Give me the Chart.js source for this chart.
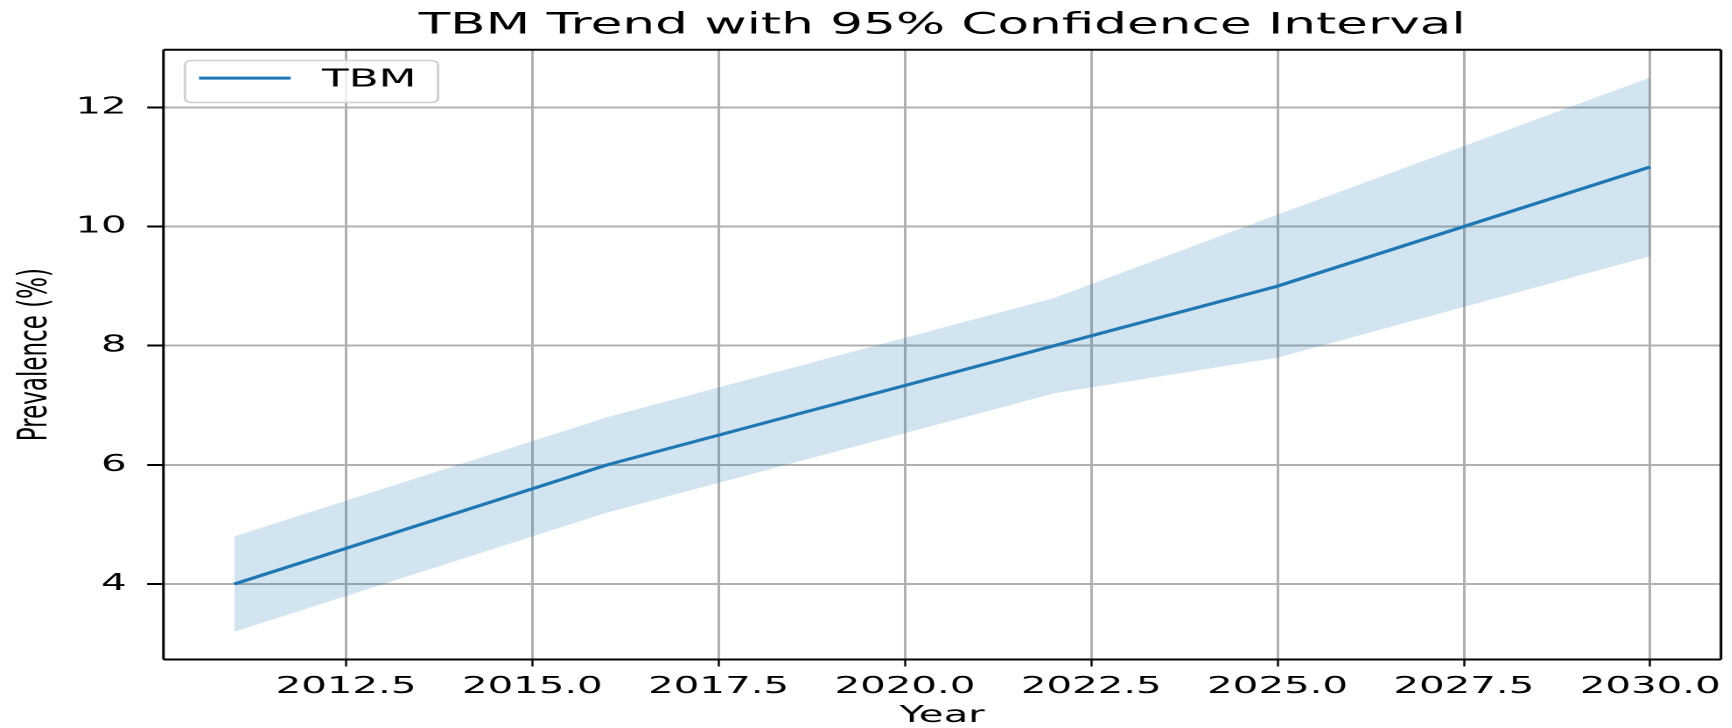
<!DOCTYPE html>
<html>
<head>
<meta charset="utf-8">
<title>TBM Trend with 95% Confidence Interval</title>
<script src="https://cdn.jsdelivr.net/npm/chart.js@4.4.1/dist/chart.umd.min.js"></script>
<style>
  html, body { margin: 0; padding: 0; background: #fff; overflow: hidden; }
  /* the reference figure is stretched sideways, so the chart is drawn narrow and widened */
  #wrap { width: 990px; height: 728px; transform: scaleX(1.75); transform-origin: 0 0; }
  #c { width: 990px; height: 728px; }
</style>
</head>
<body>
<div id="wrap"><canvas id="c" width="990" height="728"></canvas></div>
<script>
// data
const years = [2011, 2016, 2022, 2025, 2030];
const prevalence = [4.0, 6.0, 8.0, 9.0, 11.0];
const ciLower = [3.2, 5.2, 7.2, 7.8, 9.5];
const ciUpper = [4.8, 6.8, 8.8, 10.2, 12.5];
const xTicks = [2012.5, 2015, 2017.5, 2020, 2022.5, 2025, 2027.5, 2030];
const yTicks = [4, 6, 8, 10, 12];

const BLUE = '#1f77b4';
const FONT = "'DejaVu Sans', 'Liberation Sans', sans-serif";

Chart.defaults.font.family = FONT;
Chart.defaults.color = '#000';

const toPoints = vals => years.map((yr, i) => ({ x: yr, y: vals[i] }));

// matplotlib-like frame around the plot area
const spines = {
  id: 'spines',
  afterDraw(chart) {
    const { ctx, chartArea: a } = chart;
    ctx.save();
    ctx.strokeStyle = '#000';
    ctx.lineWidth = 2;
    ctx.beginPath();
    ctx.moveTo(a.left, a.top); ctx.lineTo(a.right, a.top);
    ctx.moveTo(a.left, a.bottom); ctx.lineTo(a.right, a.bottom);
    ctx.stroke();
    ctx.lineWidth = 1.5;
    ctx.beginPath();
    ctx.moveTo(a.left, a.top); ctx.lineTo(a.left, a.bottom);
    ctx.moveTo(a.right, a.top); ctx.lineTo(a.right, a.bottom);
    ctx.stroke();
    ctx.restore();
  }
};

// legend in the upper left corner of the axes, with a rounded frame
const cornerLegend = {
  id: 'cornerLegend',
  afterDraw(chart) {
    const { ctx, chartArea: a } = chart;
    const ds = chart.data.datasets[0];
    const x = a.left + 12.3, y = a.top + 10.7, w = 144.6, h = 42;
    ctx.save();
    ctx.beginPath();
    ctx.roundRect(x, y, w, h, 4);
    ctx.fillStyle = 'rgba(255,255,255,0.8)';
    ctx.fill();
    ctx.strokeStyle = '#d0d0d0';
    ctx.lineWidth = 1.5;
    ctx.stroke();
    ctx.beginPath();
    ctx.moveTo(x + 8, y + 17.6);
    ctx.lineTo(x + 60.4, y + 17.6);
    ctx.strokeStyle = ds.borderColor;
    ctx.lineWidth = 3;
    ctx.stroke();
    ctx.fillStyle = '#000';
    ctx.font = '25px ' + FONT;
    ctx.textBaseline = 'alphabetic';
    ctx.fillText(ds.label, x + 78.3, y + 26);
    ctx.restore();
  }
};

new Chart(document.getElementById('c'), {
  type: 'line',
  data: {
    datasets: [
      {
        label: 'TBM',
        data: toPoints(prevalence),
        borderColor: BLUE,
        borderWidth: 3,
        pointRadius: 0,
        fill: false,
        tension: 0
      },
      {
        label: 'lower',
        data: toPoints(ciLower),
        borderWidth: 0,
        borderColor: 'rgba(0,0,0,0)',
        pointRadius: 0,
        fill: false
      },
      {
        label: 'upper',
        data: toPoints(ciUpper),
        borderWidth: 0,
        borderColor: 'rgba(0,0,0,0)',
        backgroundColor: 'rgba(31,119,180,0.2)',
        pointRadius: 0,
        fill: '-1'
      }
    ]
  },
  options: {
    responsive: false,
    animation: false,
    devicePixelRatio: 2,
    layout: { padding: { left: 0, right: 3, top: 0, bottom: 0 } },
    plugins: {
      legend: { display: false },
      tooltip: { enabled: false },
      title: {
        display: true,
        text: 'TBM Trend with 95% Confidence Interval',
        fullSize: false,
        color: '#000',
        font: { size: 29.5, weight: 'normal' },
        padding: { top: 8, bottom: 6.4 }
      }
    },
    scales: {
      x: {
        type: 'linear',
        min: 2010.05,
        max: 2030.95,
        afterBuildTicks: s => { s.ticks = xTicks.map(v => ({ value: v })); },
        afterFit: s => { s.height = 68.5; },
        ticks: {
          font: { size: 23 },
          padding: 6.5,
          maxRotation: 0,
          callback: v => Number(v).toFixed(1)
        },
        grid: { color: '#b0b0b0', lineWidth: 1.5, tickColor: '#000', tickWidth: 1.2, tickLength: 7 },
        border: { display: false },
        title: { display: true, text: 'Year', font: { size: 23 }, padding: { top: 0, bottom: -2 } }
      },
      y: {
        min: 2.735,
        max: 12.965,
        afterBuildTicks: s => { s.ticks = yTicks.map(v => ({ value: v })); },
        afterFit: s => { s.width = 93.4; },
        ticks: { font: { size: 23 }, padding: 11.7 },
        grid: { color: '#b0b0b0', lineWidth: 2, tickColor: '#000', tickWidth: 2, tickLength: 9.3 },
        border: { display: false },
        title: { display: true, text: 'Prevalence (%)', font: { size: 23 }, padding: { top: 6.5, bottom: 0 } }
      }
    }
  },
  plugins: [spines, cornerLegend]
});
</script>
</body>
</html>
